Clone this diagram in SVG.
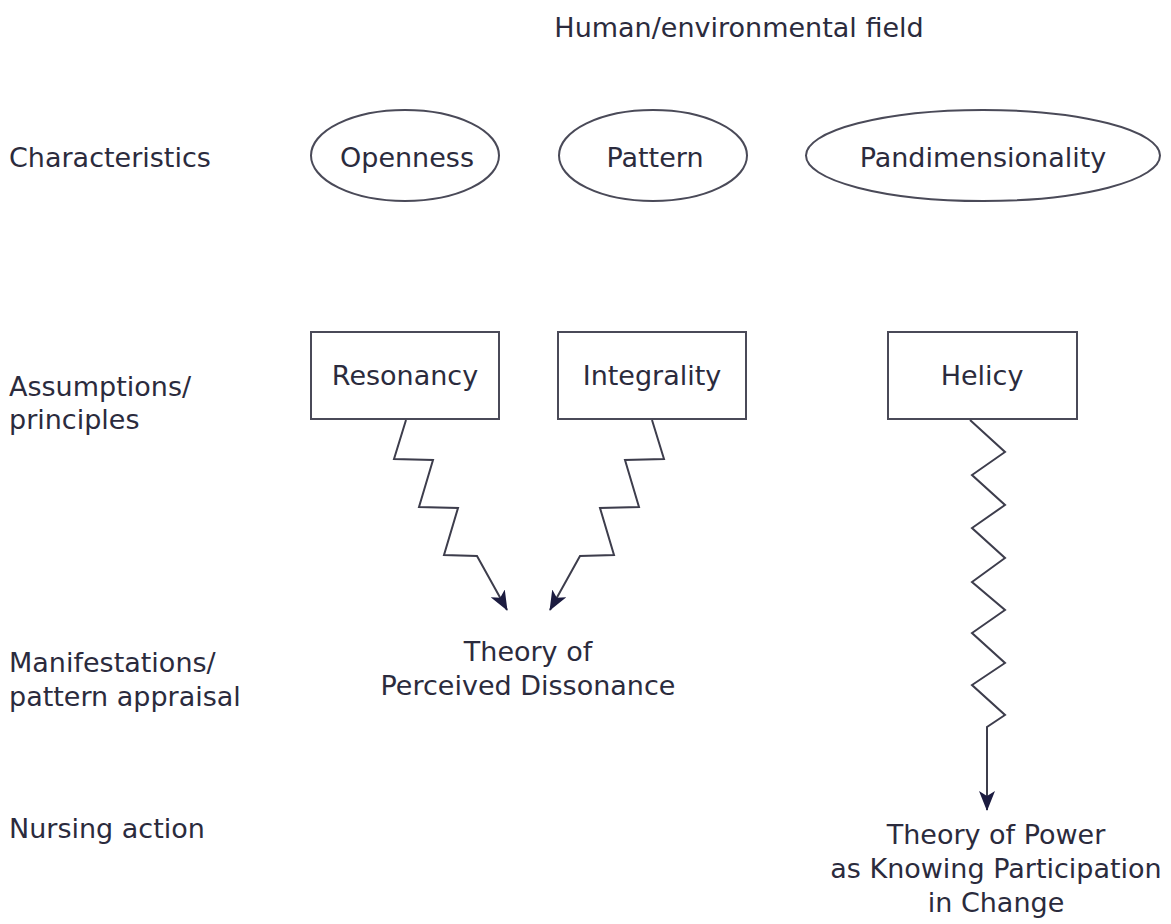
<svg xmlns="http://www.w3.org/2000/svg" width="1171" height="924" viewBox="0 0 1171 924">
  <style>
    text { font-family: "DejaVu Sans", "Liberation Sans", sans-serif; font-size: 27px; fill: #2b2b3d; }
    .c { text-anchor: middle; }
    .shape { fill: #ffffff; stroke: #4a4a58; stroke-width: 2; }
    .link { fill: none; stroke: #3d3d4c; stroke-width: 2; stroke-linejoin: miter; }
  </style>
  <defs>
    <marker id="arrow" markerUnits="userSpaceOnUse" viewBox="0 0 20 16" refX="19" refY="8" markerWidth="20" markerHeight="16" orient="auto">
      <path d="M0,0 L20,8 L0,16 L5,8 z" fill="#1c1c40"/>
    </marker>
  </defs>
  <rect width="1171" height="924" fill="#ffffff"/>

  <!-- header -->
  <text class="c" x="739" y="37">Human/environmental field</text>

  <!-- row labels -->
  <g id="row-labels">
    <text x="9" y="167">Characteristics</text>
    <text x="9" y="396">Assumptions/</text>
    <text x="9" y="429">principles</text>
    <text x="9" y="672">Manifestations/</text>
    <text x="9" y="706">pattern appraisal</text>
    <text x="9" y="838">Nursing action</text>
  </g>

  <!-- characteristics -->
  <g id="openness">
    <ellipse class="shape" cx="405" cy="155.5" rx="94" ry="45.5"/>
    <text class="c" x="407" y="167">Openness</text>
  </g>
  <g id="pattern">
    <ellipse class="shape" cx="653" cy="155.5" rx="94" ry="45.5"/>
    <text class="c" x="655" y="167">Pattern</text>
  </g>
  <g id="pandimensionality">
    <ellipse class="shape" cx="983" cy="155.5" rx="177" ry="45.5"/>
    <text class="c" x="983" y="167">Pandimensionality</text>
  </g>

  <!-- principles -->
  <g id="resonancy">
    <rect class="shape" x="311" y="332" width="188" height="87"/>
    <text class="c" x="405" y="385">Resonancy</text>
  </g>
  <g id="integrality">
    <rect class="shape" x="558" y="332" width="188" height="87"/>
    <text class="c" x="652" y="385">Integrality</text>
  </g>
  <g id="helicy">
    <rect class="shape" x="888" y="332" width="189" height="87"/>
    <text class="c" x="982" y="385">Helicy</text>
  </g>

  <!-- outcomes -->
  <g id="perceived-dissonance">
    <text class="c" x="528" y="661">Theory of</text>
    <text class="c" x="528" y="695">Perceived Dissonance</text>
  </g>
  <g id="power-knowing-participation">
    <text class="c" x="996" y="844">Theory of Power</text>
    <text class="c" x="996" y="878">as Knowing Participation</text>
    <text class="c" x="996" y="912">in Change</text>
  </g>

  <!-- zigzag connectors -->
  <g id="connectors">
    <polyline class="link" marker-end="url(#arrow)" points="406,420 394,459 433,460 419,507 458,508 444,555 477,556 507,610"/>
    <polyline class="link" marker-end="url(#arrow)" points="652,420 664,459 625,460 639,507 600,508 614,555 580,556 550,610"/>
    <polyline class="link" marker-end="url(#arrow)" points="970,420 1005,452 972,475 1005,505 972,528 1005,558 972,582 1005,610 972,633 1005,663 972,685 1005,715 987,727 987,810"/>
  </g>
</svg>
